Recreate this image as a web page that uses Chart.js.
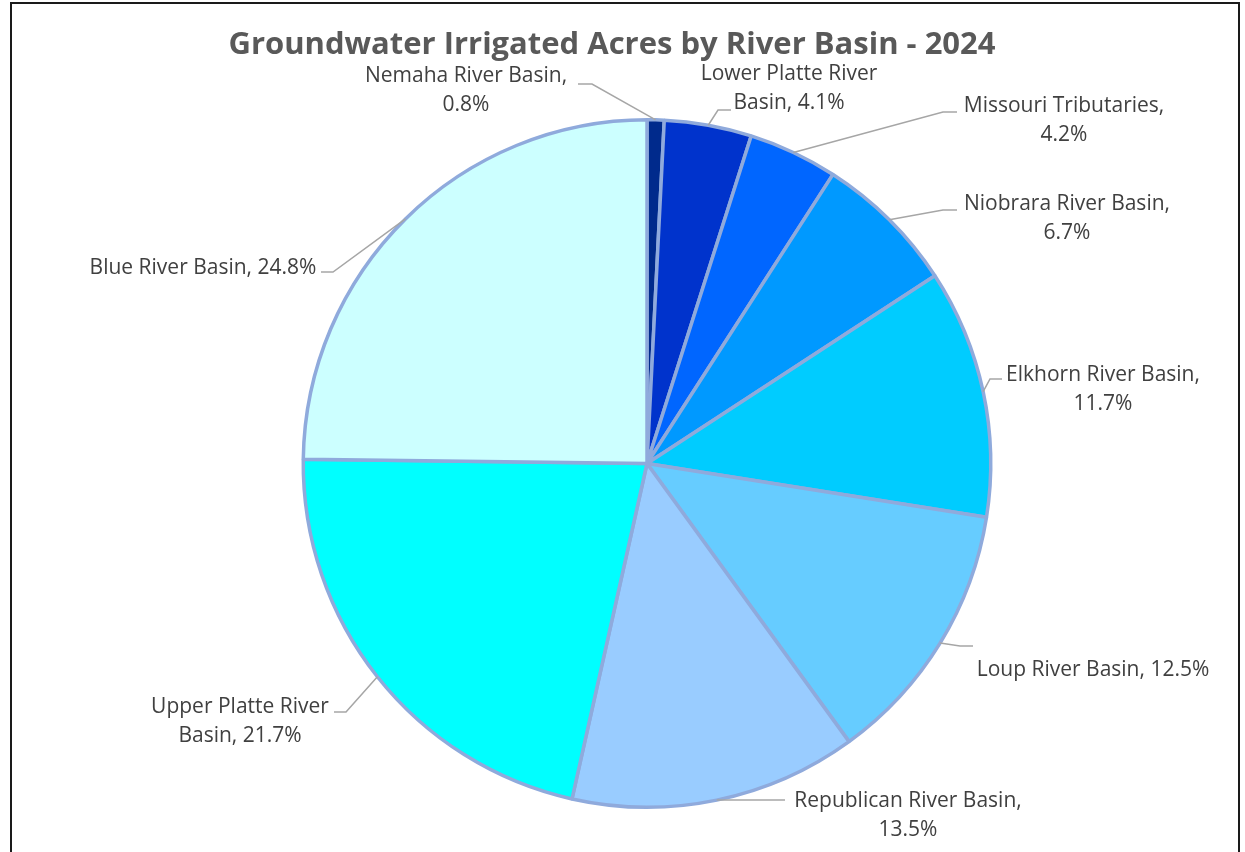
<!DOCTYPE html>
<html>
<head>
<meta charset="utf-8">
<script src="https://cdn.jsdelivr.net/npm/chart.js@4.4.1/dist/chart.umd.min.js"></script>
<style>
  html, body { margin: 0; padding: 0; background: #fff; }
  #wrap { width: 1245px; height: 852px; position: relative; }
</style>
</head>
<body>
<div id="wrap"><canvas id="pieChart" width="1245" height="852"></canvas></div>
<script>
const basins = ['Nemaha River Basin', 'Lower Platte River Basin', 'Missouri Tributaries',
    'Niobrara River Basin', 'Elkhorn River Basin', 'Loup River Basin',
    'Republican River Basin', 'Upper Platte River Basin', 'Blue River Basin'];
const shares = [0.8, 4.1, 4.2, 6.7, 11.7, 12.5, 13.5, 21.7, 24.8];
const sliceColors = ['#002A8C', '#0033CC', '#0066FF', '#0099FF', '#00CCFF',
    '#66CCFF', '#99CCFF', '#00FFFF', '#CCFFFF'];

// label text lines (index matches basins)
const labelLines = [
    ['Nemaha River Basin,', '0.8%'],
    ['Lower Platte River', 'Basin, 4.1%'],
    ['Missouri Tributaries,', '4.2%'],
    ['Niobrara River Basin,', '6.7%'],
    ['Elkhorn River Basin,', '11.7%'],
    ['Loup River Basin, 12.5%'],
    ['Republican River Basin,', '13.5%'],
    ['Upper Platte River', 'Basin, 21.7%'],
    ['Blue River Basin, 24.8%']
];
// layout for labels: text centre x, first line y, leader start, elbow
const labelLayout = [
    { x: 466, y: 76, p1: [578, 84], p2: [592, 84] },
    { x: 789, y: 74, p1: [731, 110], p2: [718, 110] },
    { x: 1064, y: 106, p1: [957, 112], p2: [943, 112] },
    { x: 1067, y: 204, p1: [957, 210], p2: [943, 210] },
    { x: 1103, y: 375, p1: [1002, 379], p2: [990, 379] },
    { x: 1093, y: 670, p1: [973, 646], p2: [960, 646] },
    { x: 908, y: 801, p1: [785, 800], p2: [772, 800] },
    { x: 240, y: 707, p1: [334, 712], p2: [346, 712] },
    { x: 203, y: 268, p1: [321, 272], p2: [333, 272] }
];

const decor = {
    id: 'decor',
    beforeDraw(chart) {
        const ctx = chart.ctx;
        ctx.save();
        ctx.fillStyle = '#fff';
        ctx.fillRect(0, 0, chart.width, chart.height);
        ctx.strokeStyle = '#1a1a1a';
        ctx.lineWidth = 2;
        ctx.strokeRect(11, 3, 1228, 900);
        ctx.restore();
    },
    afterDraw(chart) {
        const ctx = chart.ctx;
        const meta = chart.getDatasetMeta(0);
        ctx.save();
        ctx.fillStyle = '#595959';
        ctx.font = 'bold 31px "Open Sans", sans-serif';
        ctx.textAlign = 'center';
        ctx.textBaseline = 'middle';
        ctx.fillText('Groundwater Irrigated Acres by River Basin - 2024', 612, 45);

        meta.data.forEach((arc, i) => {
            const p = arc.getProps(['x', 'y', 'startAngle', 'endAngle', 'outerRadius'], true);
            const mid = (p.startAngle + p.endAngle) / 2;
            const ax = p.x + Math.cos(mid) * p.outerRadius;
            const ay = p.y + Math.sin(mid) * p.outerRadius;
            const L = labelLayout[i];
            ctx.strokeStyle = '#A6A6A6';
            ctx.lineWidth = 1.5;
            ctx.beginPath();
            ctx.moveTo(L.p1[0], L.p1[1]);
            ctx.lineTo(L.p2[0], L.p2[1]);
            ctx.lineTo(ax, ay);
            ctx.stroke();

            ctx.fillStyle = '#404040';
            ctx.font = '21px "Open Sans", sans-serif';
            labelLines[i].forEach((t, k) => {
                ctx.fillText(t, L.x, L.y + k * 29);
            });
        });
        ctx.restore();
    }
};

new Chart(document.getElementById('pieChart').getContext('2d'), {
    type: 'pie',
    data: {
        labels: basins,
        datasets: [{
            data: shares,
            backgroundColor: sliceColors,
            borderColor: '#8FAADC',
            borderWidth: 3.5
        }]
    },
    options: {
        responsive: false,
        animation: false,
        layout: { padding: { left: 301, right: 252, top: 118, bottom: 43 } },
        plugins: {
            legend: { display: false },
            tooltip: { enabled: false }
        }
    },
    plugins: [decor]
});
</script>
</body>
</html>
